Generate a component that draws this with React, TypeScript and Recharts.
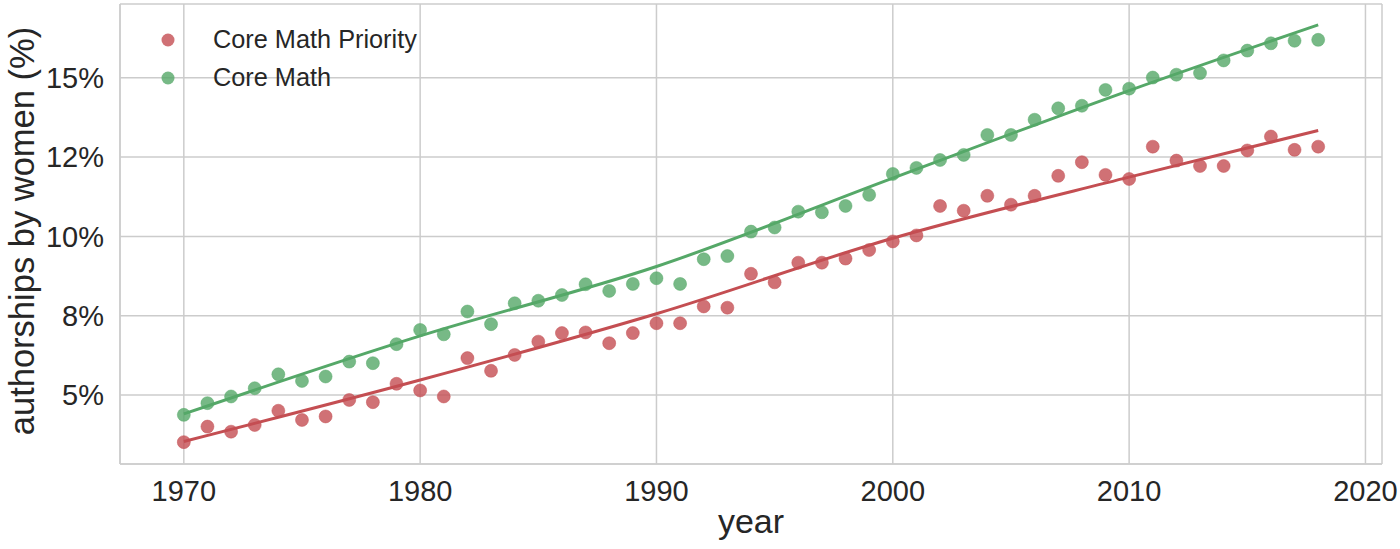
import { ComposedChart, Scatter, Line, XAxis, YAxis, CartesianGrid, Legend } from "recharts";

// share of authorships by women (%)
const years = [
  1970, 1971, 1972, 1973, 1974, 1975, 1976, 1977, 1978, 1979,
  1980, 1981, 1982, 1983, 1984, 1985, 1986, 1987, 1988, 1989,
  1990, 1991, 1992, 1993, 1994, 1995, 1996, 1997, 1998, 1999,
  2000, 2001, 2002, 2003, 2004, 2005, 2006, 2007, 2008, 2009,
  2010, 2011, 2012, 2013, 2014, 2015, 2016, 2017, 2018,
];
const corePriority = [
  3.51, 4.0, 3.84, 4.05, 4.5, 4.21, 4.32, 4.84, 4.77, 5.35,
  5.14, 4.95, 6.16, 5.76, 6.26, 6.68, 6.95, 6.97, 6.63, 6.95,
  7.26, 7.26, 7.79, 7.75, 8.82, 8.55, 9.17, 9.17, 9.3, 9.57,
  9.84, 10.03, 10.96, 10.81, 11.28, 11.0, 11.28, 11.91, 12.34, 11.94,
  11.81, 12.83, 12.39, 12.22, 12.22, 12.71, 13.15, 12.73, 12.83,
];
const coreMath = [
  4.37, 4.74, 4.95, 5.21, 5.65, 5.44, 5.58, 6.05, 6.0, 6.6,
  7.05, 6.91, 7.63, 7.23, 7.89, 7.97, 8.15, 8.49, 8.28, 8.5,
  8.68, 8.5, 9.28, 9.38, 10.15, 10.28, 10.78, 10.76, 10.96, 11.31,
  11.97, 12.16, 12.41, 12.57, 13.2, 13.2, 13.68, 14.04, 14.12, 14.62,
  14.66, 15.01, 15.1, 15.15, 15.55, 15.86, 16.09, 16.17, 16.2,
];

// trend lines at a few years
const fitYears = [1970, 1980, 1990, 2000, 2010, 2018];
const fitPriority = [3.53, 5.47, 7.56, 9.94, 11.87, 13.34];
const fitCore = [4.4, 6.86, 9.05, 11.84, 14.6, 16.67];

const xTicks = [1970, 1980, 1990, 2000, 2010, 2020];
const yTicks = [5, 7.5, 10, 12.5, 15];
const yTickLabels = ["5%", "8%", "10%", "12%", "15%"];

const RED = "#c44e52";
const GREEN = "#55a868";
const GRID = "#cccccc";
const TEXT = "#262626";
const FONT = '"Liberation Sans", Arial, sans-serif';

const rows = years.map((year, i) => {
  const k = fitYears.indexOf(year);
  return {
    year,
    priority: corePriority[i],
    core: coreMath[i],
    fitPriority: k >= 0 ? fitPriority[k] : null,
    fitCore: k >= 0 ? fitCore[k] : null,
  };
});

const legendItems = [
  { name: "Core Math Priority", color: RED },
  { name: "Core Math", color: GREEN },
];

const dot = (color: string) => (p: any) => (
  <circle cx={p.cx} cy={p.cy} r={6.5} fill={color} fillOpacity={0.8} stroke={color} strokeOpacity={0.6} strokeWidth={0.8} />
);

const renderLegend = () => (
  <div>
    {legendItems.map((it) => (
      <div key={it.name} style={{ display: "flex", alignItems: "center", height: 38 }}>
        <svg width={14} height={14}>
          <circle cx={7} cy={7} r={6.5} fill={it.color} fillOpacity={0.8} />
        </svg>
        <span style={{ marginLeft: 38, fontSize: 25.3, lineHeight: 1, color: TEXT, fontFamily: FONT }}>
          {it.name}
        </span>
      </div>
    ))}
  </div>
);

export default function App() {
  const axisLine = { stroke: GRID, strokeWidth: 1.5 };
  return (
    <div style={{ position: "absolute", left: 0, top: 0 }}>
      <ComposedChart
        width={1400}
        height={549}
        data={rows}
        margin={{ top: 4, right: 18, bottom: 0, left: 0 }}
        style={{ fontFamily: FONT }}
      >
        <CartesianGrid stroke={GRID} strokeWidth={1.5} />
        <XAxis
          dataKey="year"
          type="number"
          domain={[1967.3, 2020.7]}
          ticks={xTicks}
          allowDataOverflow
          height={85}
          tickSize={0}
          tickMargin={16}
          tickLine={false}
          axisLine={axisLine}
          tick={{ fontSize: 29, fill: TEXT }}
          label={{
            content: ({ viewBox }: any) => (
              <text
                x={viewBox.x + viewBox.width / 2}
                y={viewBox.y + 69}
                textAnchor="middle"
                fontSize={34}
                fill={TEXT}
              >
                year
              </text>
            ),
          }}
        />
        <XAxis xAxisId="top" orientation="top" dataKey="year" type="number" domain={[1967.3, 2020.7]} height={0} tick={false} tickLine={false} axisLine={axisLine} />
        <YAxis
          type="number"
          domain={[2.82, 17.33]}
          ticks={yTicks}
          allowDataOverflow
          width={120}
          tickSize={0}
          tickMargin={16}
          tickLine={false}
          axisLine={axisLine}
          tick={{ fontSize: 29, fill: TEXT }}
          tickFormatter={(v: number) => yTickLabels[yTicks.indexOf(v)] ?? ""}
          label={{
            content: ({ viewBox }: any) => (
              <text
                transform={`translate(${viewBox.x + 34},${viewBox.y + viewBox.height / 2 - 3}) rotate(-90)`}
                textAnchor="middle"
                fontSize={34.5}
                fill={TEXT}
              >
                authorships by women (%)
              </text>
            ),
          }}
        />
        <YAxis yAxisId="right" orientation="right" type="number" domain={[2.82, 17.33]} width={0} tick={false} tickLine={false} axisLine={axisLine} />
        <Legend layout="vertical" align="center" verticalAlign="middle" wrapperStyle={{ left: 161, top: 21, width: 320 }} content={renderLegend} />
        <Scatter dataKey="priority" name="Core Math Priority" fill={RED} shape={dot(RED)} isAnimationActive={false} />
        <Scatter dataKey="core" name="Core Math" fill={GREEN} shape={dot(GREEN)} isAnimationActive={false} />
        <Line dataKey="fitPriority" type="monotone" stroke={RED} strokeWidth={3} dot={false} activeDot={false} connectNulls isAnimationActive={false} legendType="none" />
        <Line dataKey="fitCore" type="monotone" stroke={GREEN} strokeWidth={3} dot={false} activeDot={false} connectNulls isAnimationActive={false} legendType="none" />
      </ComposedChart>
    </div>
  );
}
